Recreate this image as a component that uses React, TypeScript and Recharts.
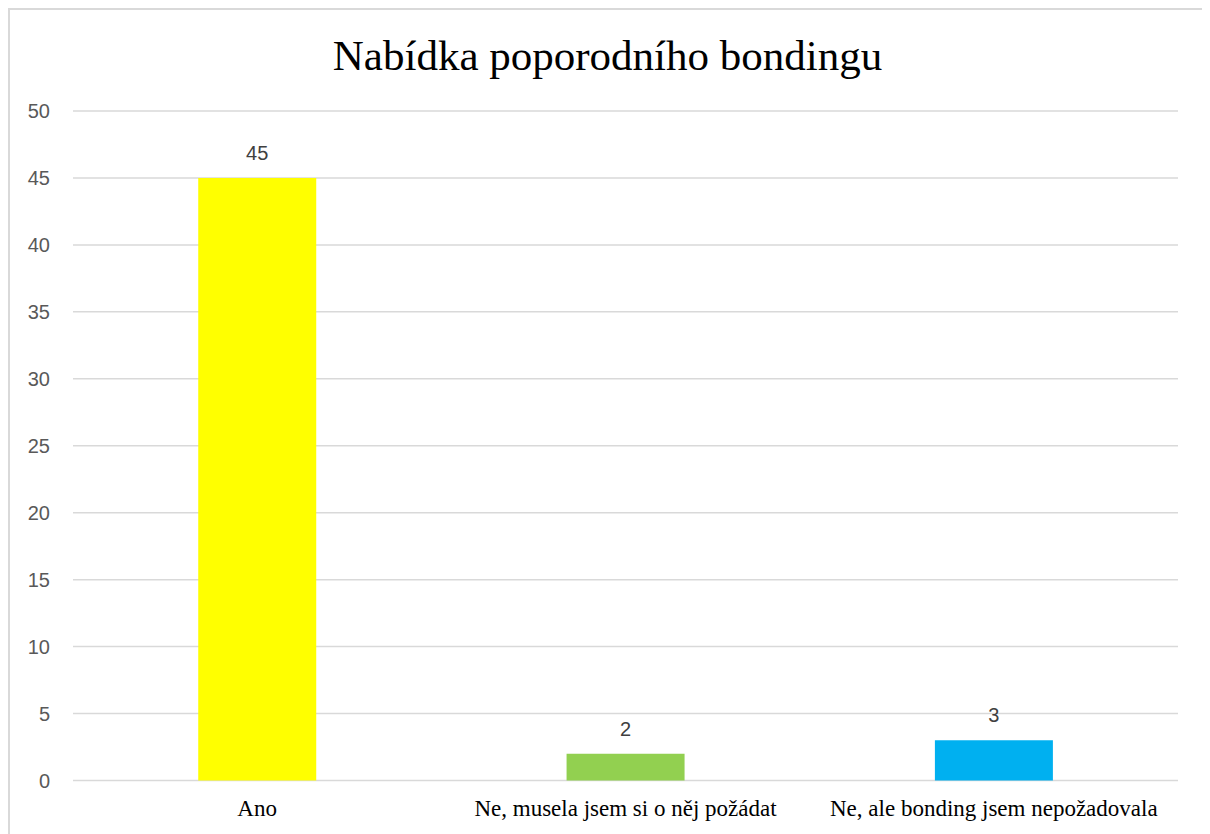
import React from "react";
import { BarChart, Bar, XAxis, YAxis, CartesianGrid, Cell, LabelList } from "recharts";

const categories = ["Ano", "Ne, musela jsem si o něj požádat", "Ne, ale bonding jsem nepožadovala"];
const values = [45, 2, 3];
const colors = ["#FFFF00", "#92D050", "#00B0F0"];
const yTicks = [0, 5, 10, 15, 20, 25, 30, 35, 40, 45, 50];
const title = "Nabídka poporodního bondingu";

const data = categories.map((c, i) => ({ name: c, value: values[i] }));

export default function App() {
  return (
    <div
      style={{
        position: "relative",
        width: 1195,
        height: 840,
        border: "2px solid #d9d9d9",
        borderBottom: "none",
        background: "#fff",
      }}
    >
      <div
        style={{
          position: "absolute",
          left: 0,
          right: 0,
          top: 21,
          textAlign: "center",
          fontFamily: "'Liberation Serif', 'Times New Roman', serif",
          fontSize: 43,
          color: "#000",
          lineHeight: "50px",
        }}
      >
        {title}
      </div>
      <BarChart
        width={1195}
        height={824}
        data={data}
        margin={{ top: 101, right: 27, left: 23, bottom: 13.5 }}
        barCategoryGap="34%"
      >
        <CartesianGrid vertical={false} stroke="#d9d9d9" strokeWidth={1.5} />
        <XAxis
          dataKey="name"
          axisLine={false}
          tickLine={false}
          tickSize={0}
          tickMargin={19}
          height={40}
          interval={0}
          tick={{ fill: "#000", fontSize: 23, fontFamily: "'Liberation Serif', 'Times New Roman', serif" }}
        />
        <YAxis
          domain={[0, 50]}
          ticks={yTicks}
          axisLine={false}
          tickLine={false}
          tickSize={0}
          tickMargin={23}
          width={40}
          tick={{ fill: "#595959", fontSize: 20, fontFamily: "'Liberation Sans', Arial, sans-serif" }}
        />
        <Bar dataKey="value" isAnimationActive={false}>
          {data.map((d, i) => (
            <Cell key={d.name} fill={colors[i]} />
          ))}
          <LabelList
            dataKey="value"
            position="top"
            offset={18}
            fill="#404040"
            fontSize={20}
            fontFamily="'Liberation Sans', Arial, sans-serif"
          />
        </Bar>
      </BarChart>
    </div>
  );
}
